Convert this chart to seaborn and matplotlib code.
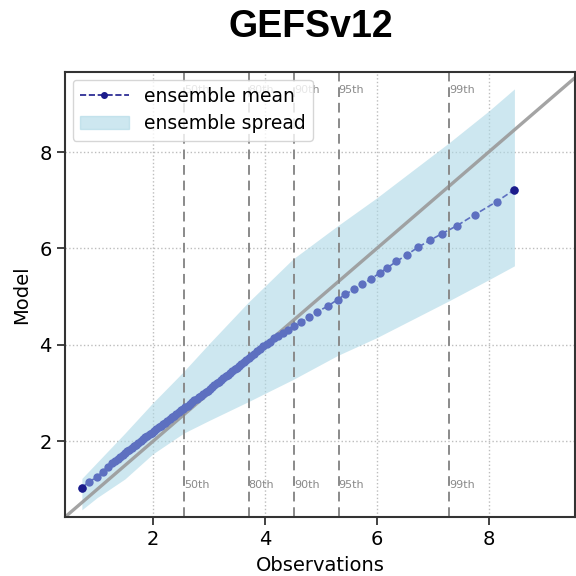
import numpy as np
import pandas as pd
import matplotlib
matplotlib.use("Agg")
import matplotlib.pyplot as plt
from matplotlib.lines import Line2D
from matplotlib.patches import Patch
import seaborn as sns

# Quantiles of observed vs. modelled values
obs_q = [0.73, 0.86, 1.00, 1.10, 1.19, 1.26, 1.32, 1.37, 1.42, 1.46, 1.50, 1.54,
         1.58, 1.62, 1.66, 1.70, 1.74, 1.78, 1.82, 1.86, 1.90, 1.94, 1.98, 2.02,
         2.06, 2.10, 2.14, 2.18, 2.22, 2.26, 2.30, 2.34, 2.38, 2.42, 2.46, 2.50,
         2.54, 2.58, 2.62, 2.66, 2.70, 2.74, 2.78, 2.82, 2.86, 2.90, 2.94, 2.98,
         3.02, 3.06, 3.10, 3.14, 3.18, 3.22, 3.26, 3.30, 3.34, 3.38, 3.42, 3.46,
         3.50, 3.54, 3.58, 3.62, 3.66, 3.71, 3.76, 3.81, 3.86, 3.92, 3.97, 4.03,
         4.09, 4.16, 4.24, 4.32, 4.41, 4.52, 4.65, 4.79, 4.94, 5.12, 5.30, 5.44,
         5.59, 5.74, 5.90, 6.05, 6.19, 6.35, 6.54, 6.73, 6.95, 7.17, 7.43, 7.75,
         8.14, 8.46]
mean_q = [1.04, 1.16, 1.26, 1.37, 1.47, 1.54, 1.59, 1.63, 1.68, 1.72, 1.75, 1.79,
          1.82, 1.86, 1.90, 1.93, 1.97, 2.00, 2.04, 2.08, 2.11, 2.15, 2.18, 2.22,
          2.25, 2.29, 2.32, 2.36, 2.39, 2.43, 2.46, 2.50, 2.53, 2.57, 2.60, 2.64,
          2.67, 2.71, 2.74, 2.78, 2.81, 2.85, 2.88, 2.91, 2.95, 2.98, 3.02, 3.05,
          3.09, 3.13, 3.16, 3.20, 3.24, 3.27, 3.31, 3.35, 3.38, 3.42, 3.46, 3.49,
          3.53, 3.57, 3.61, 3.64, 3.68, 3.73, 3.77, 3.82, 3.87, 3.92, 3.97, 4.02,
          4.07, 4.14, 4.19, 4.25, 4.31, 4.39, 4.47, 4.57, 4.69, 4.80, 4.94, 5.05,
          5.15, 5.26, 5.37, 5.49, 5.60, 5.73, 5.87, 6.02, 6.17, 6.31, 6.47, 6.70,
          6.97, 7.22]

# Ensemble spread envelope
spread_x = [0.73, 1.00, 1.50, 2.00, 2.55, 3.00, 3.70, 4.50, 5.30, 6.00, 7.30, 8.00, 8.46]
spread_lo = [0.58, 0.83, 1.22, 1.74, 2.17, 2.43, 2.82, 3.28, 3.78, 4.15, 4.92, 5.35, 5.64]
spread_hi = [1.23, 1.56, 2.17, 2.80, 3.45, 4.02, 4.88, 5.78, 6.47, 7.05, 8.20, 8.85, 9.31]

# Observation percentiles
pct_labels = ["50th", "80th", "90th", "95th", "99th"]
pct_values = [2.55, 3.71, 4.52, 5.32, 7.29]

title = "GEFSv12"

sns.set_style("ticks")
plt.rcParams["font.family"] = ["DejaVu Sans"]
plt.rcParams["text.color"] = "black"
plt.rcParams["axes.labelcolor"] = "black"
plt.rcParams["xtick.color"] = "black"
plt.rcParams["ytick.color"] = "black"

fig = plt.figure(figsize=(5.76, 5.76), dpi=100)
ax = fig.add_axes([0.113, 0.1024, 0.886, 0.7726])

lo_lim, hi_x, hi_y = 0.43, 9.55, 9.66
ax.set_xlim(lo_lim, hi_x)
ax.set_ylim(lo_lim, hi_y)

ax.grid(True, linestyle=":", color="#bdbdbd", linewidth=1.0)
ax.set_axisbelow(True)

# 1:1 reference line
ax.plot([0, 10], [0, 10], color="#9a9a9a", linewidth=2.4, alpha=0.9, zorder=2)

ax.fill_between(spread_x, spread_lo, spread_hi, color="lightblue", alpha=0.6,
                linewidth=0, zorder=1)

for lab, v in zip(pct_labels, pct_values):
    ax.axvline(v, color="#8a8a8a", linestyle=(0, (5, 3)), linewidth=1.4, zorder=2)
    ax.text(v, 0.96, lab, transform=ax.get_xaxis_transform(), fontsize=8,
            color="#8a8a8a", ha="left", va="center", zorder=3)
    ax.text(v, 0.072, lab, transform=ax.get_xaxis_transform(), fontsize=8,
            color="#8a8a8a", ha="left", va="center", zorder=3)

df = pd.DataFrame({"Observations": obs_q, "Model": mean_q})
sns.lineplot(data=df, x="Observations", y="Model", sort=False, estimator=None,
             color="#5d70c0", linestyle="--", linewidth=1.2, marker="o",
             markersize=6, markeredgewidth=0, ax=ax, zorder=4)
ends = df.iloc[[0, -1]]
ax.plot(ends["Observations"], ends["Model"], "o", color="#1c1c8c", markersize=6,
        markeredgewidth=0, zorder=5)

handles = [
    Line2D([0], [0], color="#1c1c8c", linestyle="--", marker="o", markersize=4,
           linewidth=1.2),
    Patch(facecolor="lightblue", alpha=0.6, edgecolor="lightblue"),
]
ax.legend(handles, ["ensemble mean", "ensemble spread"], loc="upper left",
          fontsize=13.5, framealpha=0.8, handlelength=2.6,
          bbox_to_anchor=(0.0, 1.0), borderaxespad=0.4, labelspacing=0.45)

ax.set_xticks([2, 4, 6, 8])
ax.set_yticks([2, 4, 6, 8])
ax.tick_params(labelsize=14, length=6, width=1.3, color="#333333")
ax.set_xlabel("Observations", fontsize=14, labelpad=5)
ax.set_ylabel("Model", fontsize=14, labelpad=6)
for s in ax.spines.values():
    s.set_color("#333333")
    s.set_linewidth(1.5)

fig.text(0.54, 0.953, title, ha="center", va="center", fontsize=27,
         fontweight="bold", color="black",
         family=["Liberation Sans", "DejaVu Sans"])

fig.savefig("out.png", dpi=100)
